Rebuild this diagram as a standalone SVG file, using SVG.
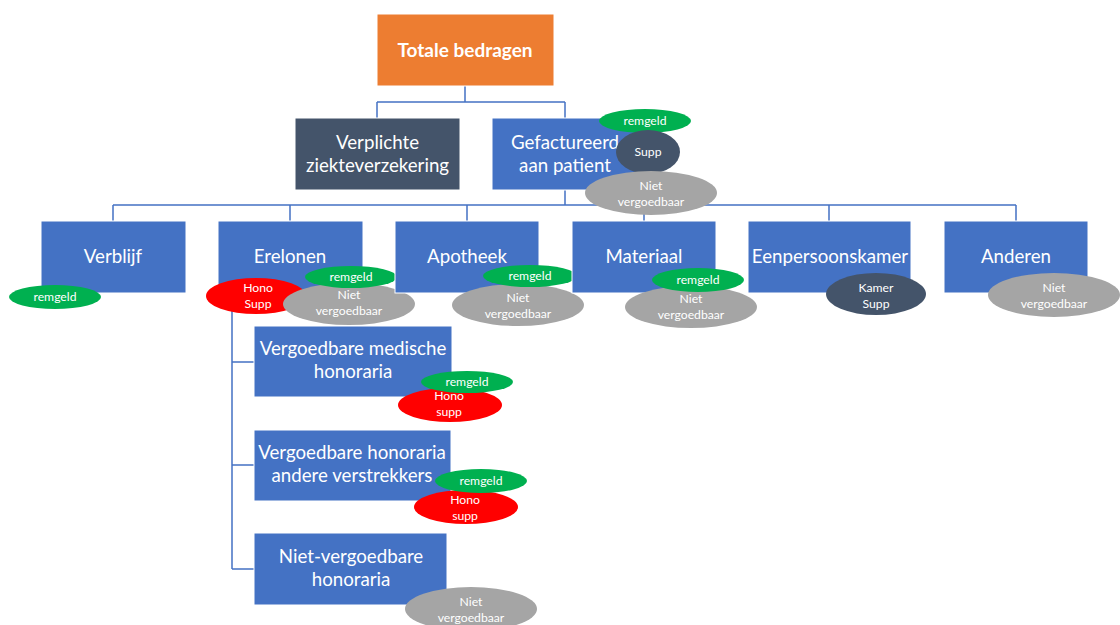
<svg xmlns="http://www.w3.org/2000/svg" width="1120" height="625" viewBox="0 0 1120 625">
<style>
.box{fill:#4472C4;stroke:#fff;stroke-width:1}
.dark{fill:#44546A;stroke:#fff;stroke-width:1}
.org{fill:#ED7D31;stroke:#fff;stroke-width:1}
.t{font-family:Lato,"Liberation Sans",sans-serif;font-size:18.7px;fill:#fff;text-anchor:middle}
.tb{font-family:Lato,"Liberation Sans",sans-serif;font-size:19px;font-weight:bold;fill:#fff;text-anchor:middle}
.s{font-family:Lato,"Liberation Sans",sans-serif;font-size:12.2px;fill:#fff;text-anchor:middle}
.g{fill:#00B050}
.r{fill:#FF0000}
.gr{fill:#A5A5A5}
.dk{fill:#44546A}
.ln{fill:none;stroke:#4472C4;stroke-width:1.5}
</style>
<rect width="1120" height="625" fill="#fff"/>
<g id="connectors">
<path class="ln" d="M465,86V102M377,102H565M377,102V118M565,102V118"/>
<path class="ln" d="M565,190V205M113,205H1016M113,205V221M290,205V221M467,205V221M644,205V221M829,205V221M1016,205V221"/>
<path class="ln" d="M232,293V569M232,362H254M232,465H254M232,569H254"/>
</g>
<g id="totale"><rect class="org" x="377" y="14" width="177" height="72"/><text class="tb" x="465" y="57">Totale bedragen</text></g>
<g id="verplichte"><rect class="dark" x="295" y="118" width="165" height="72"/><text class="t" x="377.5" y="149">Verplichte</text><text class="t" x="377.5" y="172">ziekteverzekering</text></g>
<g id="gefactureerd"><rect class="box" x="492" y="118" width="146" height="72"/><text class="t" x="565" y="149">Gefactureerd</text><text class="t" x="565" y="172">aan patient</text>
<ellipse class="g" cx="645" cy="121" rx="46" ry="12"/><text class="s" x="645" y="125">remgeld</text>
<ellipse class="dk" cx="648" cy="152" rx="32" ry="22"/><text class="s" x="648" y="156">Supp</text>
<ellipse class="gr" cx="651" cy="193" rx="66" ry="22"/><text class="s" x="651" y="190">Niet</text><text class="s" x="651" y="206">vergoedbaar</text></g>
<g id="verblijf"><rect class="box" x="41" y="221" width="145" height="72"/><text class="t" x="113" y="263">Verblijf</text>
<ellipse class="g" cx="55" cy="297" rx="46" ry="12"/><text class="s" x="55" y="301">remgeld</text></g>
<g id="erelonen"><rect class="box" x="218" y="221" width="145" height="72"/><text class="t" x="290" y="263">Erelonen</text>
<ellipse class="r" cx="256" cy="296" rx="50" ry="18"/><text class="s" x="258" y="292">Hono</text><text class="s" x="258" y="308">Supp</text>
<ellipse class="gr" cx="349" cy="304" rx="66" ry="21"/><text class="s" x="349" y="299">Niet</text><text class="s" x="349" y="315">vergoedbaar</text>
<ellipse class="g" cx="351" cy="277" rx="46" ry="11"/><text class="s" x="351" y="281">remgeld</text></g>
<g id="apotheek"><rect class="box" x="395" y="221" width="144" height="72"/><text class="t" x="467" y="263">Apotheek</text>
<ellipse class="gr" cx="518" cy="305" rx="66" ry="21"/><text class="s" x="518" y="302">Niet</text><text class="s" x="518" y="318">vergoedbaar</text>
<ellipse class="g" cx="530" cy="276" rx="47" ry="11"/><text class="s" x="530" y="280">remgeld</text></g>
<g id="materiaal"><rect class="box" x="572" y="221" width="144" height="72"/><text class="t" x="644" y="263">Materiaal</text>
<ellipse class="gr" cx="691" cy="307" rx="66" ry="21"/><text class="s" x="691" y="303">Niet</text><text class="s" x="691" y="319">vergoedbaar</text>
<ellipse class="g" cx="698" cy="280" rx="46" ry="12"/><text class="s" x="698" y="284">remgeld</text></g>
<g id="eenpersoonskamer"><rect class="box" x="748" y="221" width="163" height="72"/><text class="t" x="830" y="263">Eenpersoonskamer</text>
<ellipse class="dk" cx="876" cy="294" rx="50" ry="21"/><text class="s" x="876" y="292">Kamer</text><text class="s" x="876" y="308">Supp</text></g>
<g id="anderen"><rect class="box" x="944" y="221" width="144" height="72"/><text class="t" x="1016" y="263">Anderen</text>
<ellipse class="gr" cx="1054" cy="295" rx="66" ry="22"/><text class="s" x="1054" y="292">Niet</text><text class="s" x="1054" y="308">vergoedbaar</text></g>
<g id="vmh"><rect class="box" x="254" y="326" width="198" height="71"/><text class="t" x="353" y="355">Vergoedbare medische</text><text class="t" x="353" y="378">honoraria</text>
<ellipse class="r" cx="450" cy="405" rx="52" ry="17"/><text class="s" x="449" y="400">Hono</text><text class="s" x="449" y="416">supp</text>
<ellipse class="g" cx="467" cy="382" rx="46" ry="11"/><text class="s" x="467" y="386">remgeld</text></g>
<g id="vhav"><rect class="box" x="254" y="430" width="197" height="71"/><text class="t" x="352" y="459">Vergoedbare honoraria</text><text class="t" x="352" y="482">andere verstrekkers</text>
<ellipse class="r" cx="466" cy="507" rx="52" ry="17"/><text class="s" x="465" y="504">Hono</text><text class="s" x="465" y="520">supp</text>
<ellipse class="g" cx="481" cy="481" rx="46" ry="12"/><text class="s" x="481" y="485">remgeld</text></g>
<g id="nvh"><rect class="box" x="254" y="533" width="193" height="72"/><text class="t" x="351" y="563">Niet-vergoedbare</text><text class="t" x="351" y="586">honoraria</text>
<ellipse class="gr" cx="471" cy="609" rx="66" ry="22"/><text class="s" x="471" y="606">Niet</text><text class="s" x="471" y="622">vergoedbaar</text></g>
</svg>
